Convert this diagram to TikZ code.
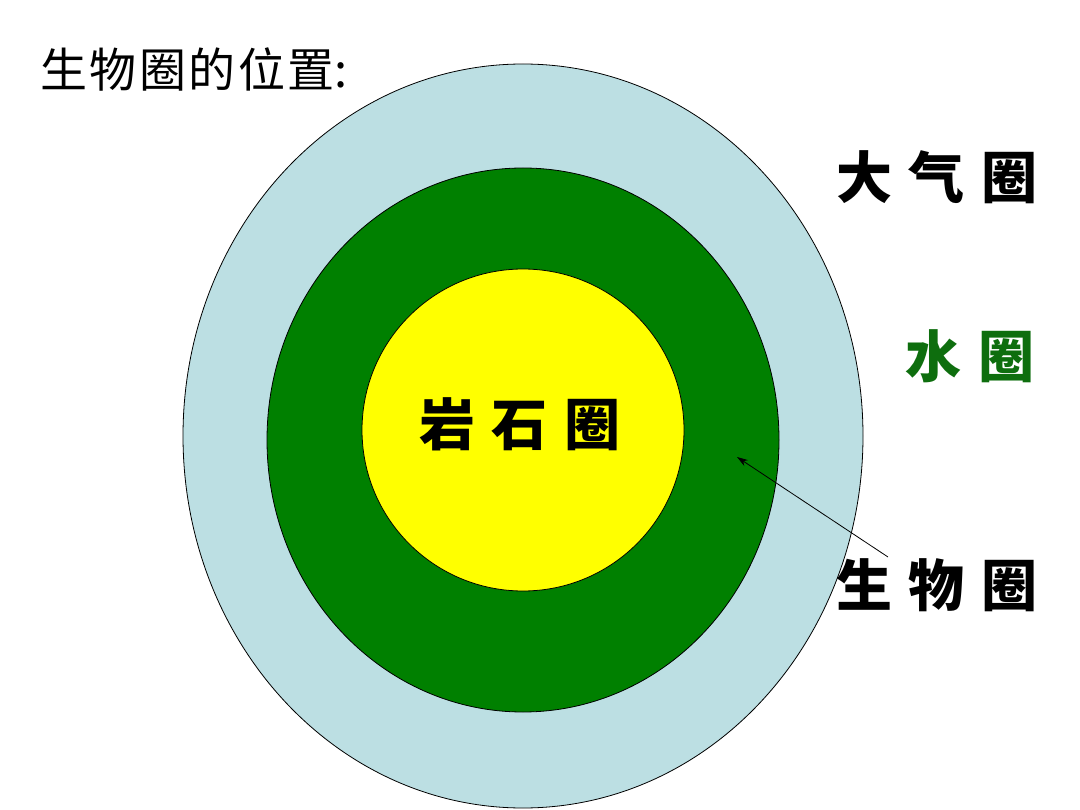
\documentclass[tikz,border=0pt]{standalone}
\usepackage{fontspec}
\newfontfamily\cjk{Noto Sans CJK SC}
\newfontfamily\cjkblack{Noto Sans CJK SC Black}
\usetikzlibrary{arrows.meta}
\definecolor{skyring}{HTML}{BCDFE3}
\definecolor{leafring}{HTML}{008000}
\definecolor{corering}{HTML}{FFFF00}
\definecolor{waterlbl}{HTML}{0E6E0E}
\tikzset{
  ring/.style={draw=black, line width=0.8pt},
  biglbl/.style={font=\cjkblack\fontsize{56}{56}\selectfont, inner sep=0pt, anchor=center},
  titlelbl/.style={font=\cjk\fontsize{47}{47}\selectfont, inner sep=0pt, anchor=west},
  pointer/.style={draw=black, line width=0.8pt, -{Stealth[length=11pt,width=7pt]}}
}
\newcommand{\spc}{\hspace{17pt}}
\newcommand{\tsp}{\hspace{2.5pt}}
\begin{document}
\begin{tikzpicture}[x=1pt,y=-1pt]
\useasboundingbox (0,0) rectangle (1080,810);
\fill[white] (0,0) rectangle (1080,810);
\draw[ring, fill=skyring] (523,436) ellipse [x radius=340, y radius=372];
\draw[ring, fill=leafring] (523,440) ellipse [x radius=256, y radius=272];
\draw[ring, fill=corering] (523,430) ellipse [x radius=161, y radius=161];
\node[titlelbl] (title) at (40,69) {生\tsp 物\tsp 圈\tsp 的\tsp 位\tsp 置:};
\node[biglbl] (core) at (520,424) {岩\spc 石\spc 圈};
\node[biglbl] (air) at (937,177) {大\spc 气\spc 圈};
\node[biglbl, text=waterlbl] (water) at (970,356) {水\spc 圈};
\node[biglbl] (bio) at (937,585) {生\spc 物\spc 圈};
\coordinate (tail) at (888,557);
\coordinate (tip) at (737,457);
\draw[pointer] (tail) -- (tip);
\end{tikzpicture}
\end{document}
